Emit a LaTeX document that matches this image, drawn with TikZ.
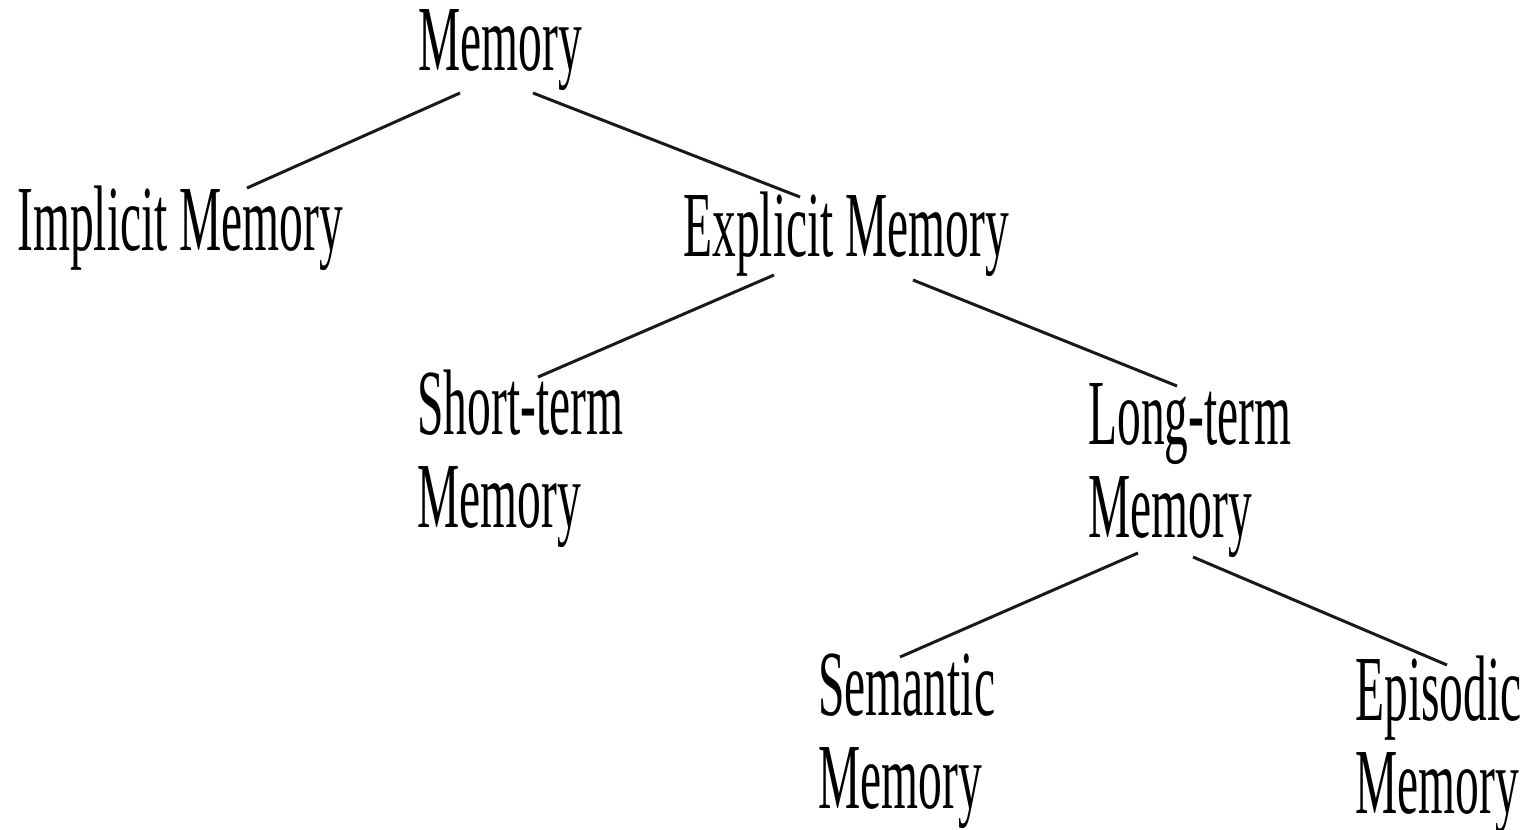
\documentclass[tikz,border=0pt]{standalone}
\usepackage{fontspec}
\setmainfont[FakeStretch=0.51]{Liberation Serif}
\usetikzlibrary{calc}
\begin{document}
\begin{tikzpicture}[x=0.02cm,y=-0.02cm,
  term/.style={anchor=base west,inner sep=0pt,align=left,font=\fontsize{53}{52.4}\selectfont},
  link/.style={line width=1.7pt,black!90}]
\useasboundingbox (0,0) rectangle (1531,829);
\node[term] (mem) at (418,70) {Memory};
\node[term] (imp) at (17,250) {Implicit Memory};
\node[term] (exp) at (683,256) {Explicit Memory};
\node[term] (st) at (417,527) {Short-term\\Memory};
\node[term] (lt) at (1088,537) {Long-term\\Memory};
\node[term] (sem) at (818,808) {Semantic\\Memory};
\node[term] (epi) at (1355,813) {Episodic\\Memory};
\draw[link] ($(mem.base west)+(42,23)$) -- ($(imp.base west)+(230,-62)$);
\draw[link] ($(mem.base west)+(115,23)$) -- ($(exp.base west)+(117,-59)$);
\draw[link] ($(exp.base west)+(91,19)$) -- ($(st.base west)+(121,-150)$);
\draw[link] ($(exp.base west)+(230,24)$) -- ($(lt.base west)+(89,-151)$);
\draw[link] ($(lt.base west)+(50,16)$) -- ($(sem.base west)+(82,-151)$);
\draw[link] ($(lt.base west)+(105,20)$) -- ($(epi.base west)+(92,-148)$);
\end{tikzpicture}
\end{document}
